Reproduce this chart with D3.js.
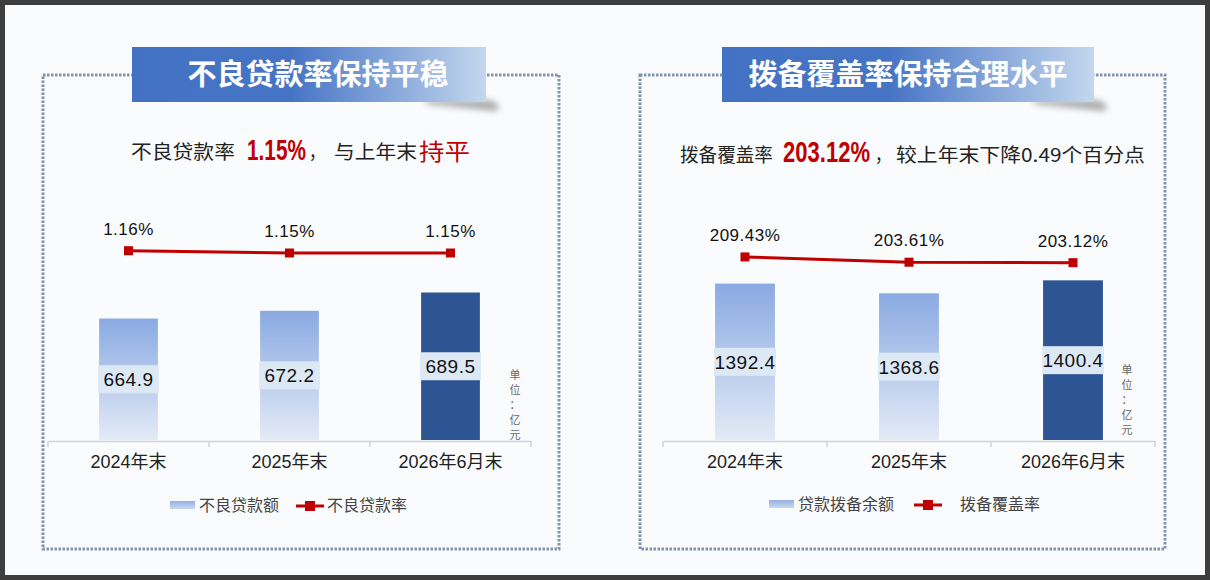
<!DOCTYPE html>
<html>
<head>
<meta charset="utf-8">
<script src="https://cdn.jsdelivr.net/npm/d3@7"></script>
<style>
  body { margin: 0; background: #3d3d3d; }
  svg { display: block; }
  text { font-family: "Noto Sans CJK SC", sans-serif; }
  .num { font-family: "Liberation Sans Narrow", "Liberation Sans", "Noto Sans CJK SC", sans-serif; }
</style>
</head>
<body>
<div id="chart"></div>
<script>
// data
var categories = ["2024年末", "2025年末", "2026年6月末"];
var nplAmount = [664.9, 672.2, 689.5];        // 不良贷款额 (亿元)
var nplRate = [1.16, 1.15, 1.15];             // 不良贷款率 (%)
var provisionAmount = [1392.4, 1368.6, 1400.4]; // 贷款拨备余额 (亿元)
var coverageRate = [209.43, 203.61, 203.12];  // 拨备覆盖率 (%)

var svgWidth = 1210;
var svgHeight = 580;

var svg = d3.select("#chart")
  .append("svg")
  .attr("width", svgWidth)
  .attr("height", svgHeight);

var defs = svg.append("defs");

// bar gradient (light bars)
var barGrad = defs.append("linearGradient")
  .attr("id", "barGrad")
  .attr("x1", 0).attr("y1", 0).attr("x2", 0).attr("y2", 1);
barGrad.append("stop").attr("offset", "0%").attr("stop-color", "#8aaae2");
barGrad.append("stop").attr("offset", "100%").attr("stop-color", "#e3eaf6");

var legGrad = defs.append("linearGradient")
  .attr("id", "legGrad")
  .attr("x1", 0).attr("y1", 0).attr("x2", 0).attr("y2", 1);
legGrad.append("stop").attr("offset", "0%").attr("stop-color", "#93b1e4");
legGrad.append("stop").attr("offset", "100%").attr("stop-color", "#c9d8f0");

// title box gradient
var titleGrad = defs.append("linearGradient")
  .attr("id", "titleGrad")
  .attr("x1", 0).attr("y1", 0).attr("x2", 1).attr("y2", 0);
titleGrad.append("stop").attr("offset", "0%").attr("stop-color", "#4372c4");
titleGrad.append("stop").attr("offset", "45%").attr("stop-color", "#4674c5");
titleGrad.append("stop").attr("offset", "100%").attr("stop-color", "#c3d7ee");

defs.append("filter")
  .attr("id", "blur")
  .attr("x", "-50%").attr("y", "-50%").attr("width", "200%").attr("height", "200%")
  .append("feGaussianBlur")
  .attr("stdDeviation", 3);

// background + dark frame
svg.append("rect")
  .attr("x", 2.5).attr("y", 2.5)
  .attr("width", svgWidth - 5).attr("height", svgHeight - 5)
  .attr("fill", "#f9fbfc")
  .attr("stroke", "#3d3d3d")
  .attr("stroke-width", 5);

var panels = [
  {
    frame: [43, 75, 559, 549],
    title: "不良贷款率保持平稳",
    titleBox: [132, 486],
    titleX: 318,
    sub: [
      { t: "不良贷款率", x: 131, size: 19, len: 104, color: "#222", y: 159 },
      { t: "1.15%", x: 247, size: 30, len: 59, color: "#c00000", bold: true, num: true, y: 160 },
      { t: "，", x: 309, size: 19, len: 16, color: "#222", y: 159 },
      { t: "与上年末", x: 334, size: 19, len: 83, color: "#222", y: 159 },
      { t: "持平", x: 419, size: 23, len: 51, color: "#c00000", y: 160 }
    ],
    axis: [48, 531],
    bars: nplAmount,
    barDomain: [550, 700], barRange: [440, 281.4],
    rates: nplRate,
    rateDomain: [1.0, 1.5], rateRange: [287.5, 172.5],
    unitX: 515, unitY: 375,
    legend: { sw: 170, t1: "不良贷款额", t1x: 199, lw: 296, t2: "不良贷款率", t2x: 327, y: 505 }
  },
  {
    frame: [640, 75, 1165, 549],
    title: "拨备覆盖率保持合理水平",
    titleBox: [722, 1094],
    titleX: 908,
    sub: [
      { t: "拨备覆盖率", x: 680, size: 19, len: 93, color: "#222", y: 162 },
      { t: "203.12%", x: 783, size: 30, len: 87, color: "#c00000", bold: true, num: true, y: 162 },
      { t: "，", x: 875, size: 19, len: 16, color: "#222", y: 162 },
      { t: "较上年末下降0.49个百分点", x: 896, size: 19, len: 249, color: "#222", y: 162 }
    ],
    axis: [663, 1155],
    bars: provisionAmount,
    barDomain: [1010, 1500], barRange: [440, 239.6],
    rates: coverageRate,
    rateDomain: [150, 250], rateRange: [311, 220],
    unitX: 1127, unitY: 370,
    legend: { sw: 769, t1: "贷款拨备余额", t1x: 798, lw: 914, t2: "拨备覆盖率", t2x: 960, y: 504 }
  }
];

var fmt = d3.format(".1f");
var rateFmt = d3.format(".2f");

panels.forEach(function(p) {
  var g = svg.append("g");

  // dotted frame
  g.append("rect")
    .attr("x", p.frame[0]).attr("y", p.frame[1])
    .attr("width", p.frame[2] - p.frame[0])
    .attr("height", p.frame[3] - p.frame[1])
    .attr("fill", "none")
    .attr("stroke", "#8394ae")
    .attr("stroke-width", 3)
    .attr("stroke-dasharray", "2.5,1.5");

  // title box shadow + box
  var bx0 = p.titleBox[0], bx1 = p.titleBox[1];
  g.append("path")
    .attr("d", "M" + (bx1 - 60) + ",100 L" + (bx1 + 2) + ",100 Q" + (bx1 + 18) + ",104 " + (bx1 + 10) + ",111 Q" + (bx1 - 20) + ",108 " + (bx1 - 60) + ",104 Z")
    .attr("fill", "#777")
    .attr("opacity", 0.6)
    .attr("filter", "url(#blur)");
  g.append("rect")
    .attr("x", bx0).attr("y", 47)
    .attr("width", bx1 - bx0).attr("height", 55)
    .attr("fill", "url(#titleGrad)");
  g.append("text")
    .attr("x", p.titleX).attr("y", 85)
    .attr("text-anchor", "middle")
    .attr("fill", "#fff")
    .attr("font-size", 29)
    .attr("font-weight", 700)
    .text(p.title);

  // subtitle: each piece squeezed to the width seen in the picture
  p.sub.forEach(function(s) {
    var t = g.append("text")
      .attr("font-size", s.size)
      .attr("fill", s.color)
      .attr("font-weight", s.bold ? 700 : 400)
      .attr("class", s.num ? "num" : null)
      .text(s.t);
    var w = t.node().getComputedTextLength();
    var sx = s.len ? s.len / w : 1;
    t.attr("transform", "translate(" + s.x + "," + s.y + ") scale(" + sx + ",1)");
  });

  // scales
  var x = d3.scaleBand()
    .domain(categories)
    .range(p.axis)
    .paddingInner(0.635)
    .paddingOuter(0.3175);
  var yBar = d3.scaleLinear().domain(p.barDomain).range(p.barRange);
  var yRate = d3.scaleLinear().domain(p.rateDomain).range(p.rateRange);

  // bars
  g.selectAll(".bar")
    .data(p.bars)
    .enter()
    .append("rect")
    .attr("x", function(d, i) { return x(categories[i]); })
    .attr("y", function(d) { return yBar(d); })
    .attr("width", x.bandwidth())
    .attr("height", function(d) { return yBar.range()[0] - yBar(d); })
    .attr("fill", function(d, i) { return i === 2 ? "#2d5493" : "url(#barGrad)"; });

  // bar labels in boxes
  var lab = g.selectAll(".barlab")
    .data(p.bars)
    .enter()
    .append("g")
    .attr("transform", function(d, i) {
      var cx = x(categories[i]) + x.bandwidth() / 2;
      var cy = (yBar(d) + yBar.range()[0]) / 2;
      return "translate(" + cx + "," + cy + ")";
    });
  lab.append("rect")
    .attr("x", -(x.bandwidth() / 2 + 1)).attr("y", -14)
    .attr("width", x.bandwidth() + 2).attr("height", 28)
    .attr("fill", "#dde8f5");
  lab.append("text")
    .attr("class", "num")
    .attr("text-anchor", "middle")
    .attr("y", 7)
    .attr("font-size", 19)
    .attr("fill", "#111")
    .attr("letter-spacing", 0.5)
    .text(function(d) { return fmt(d); });

  // x axis
  var axisG = g.append("g")
    .attr("transform", "translate(0,441)")
    .call(d3.axisBottom(x).tickSize(0).tickPadding(14));
  axisG.select(".domain").attr("stroke", "#d3d3d3").attr("stroke-width", 1.5);
  axisG.selectAll("text")
    .attr("class", "num")
    .attr("font-size", 18)
    .attr("fill", "#222");
  var bounds = [0, 1, 2, 3].map(function(i) { return p.axis[0] + i * x.step(); });
  axisG.selectAll(".bound")
    .data(bounds)
    .enter()
    .append("line")
    .attr("x1", function(d) { return d; })
    .attr("x2", function(d) { return d; })
    .attr("y1", 0).attr("y2", 6)
    .attr("stroke", "#d3d3d3")
    .attr("stroke-width", 1.5);

  // rate line
  var line = d3.line()
    .x(function(d, i) { return x(categories[i]) + x.bandwidth() / 2; })
    .y(function(d) { return yRate(d); });
  g.append("path")
    .datum(p.rates)
    .attr("d", line)
    .attr("fill", "none")
    .attr("stroke", "#c00000")
    .attr("stroke-width", 3);
  g.selectAll(".mk")
    .data(p.rates)
    .enter()
    .append("rect")
    .attr("x", function(d, i) { return x(categories[i]) + x.bandwidth() / 2 - 4.5; })
    .attr("y", function(d) { return yRate(d) - 4.5; })
    .attr("width", 9).attr("height", 9)
    .attr("fill", "#c00000");
  g.selectAll(".rlab")
    .data(p.rates)
    .enter()
    .append("text")
    .attr("class", "num")
    .attr("x", function(d, i) { return x(categories[i]) + x.bandwidth() / 2; })
    .attr("y", function(d) { return yRate(d) - 16; })
    .attr("text-anchor", "middle")
    .attr("font-size", 17)
    .attr("fill", "#111")
    .attr("letter-spacing", 0.5)
    .text(function(d) { return rateFmt(d) + "%"; });

  // unit note (vertical)
  g.selectAll(".unit")
    .data("单位：亿元".split(""))
    .enter()
    .append("text")
    .attr("x", p.unitX)
    .attr("y", function(d, i) { return p.unitY + 4 + i * 15; })
    .attr("text-anchor", "middle")
    .attr("font-size", 11)
    .attr("fill", "#666")
    .text(function(d) { return d; });

  // legend
  var L = p.legend;
  g.append("rect")
    .attr("x", L.sw).attr("y", L.y - 4)
    .attr("width", 25).attr("height", 8)
    .attr("fill", "url(#legGrad)");
  g.append("text")
    .attr("x", L.t1x).attr("y", L.y + 6)
    .attr("font-size", 16)
    .attr("fill", "#444")
    .text(L.t1);
  g.append("line")
    .attr("x1", L.lw).attr("x2", L.lw + 28)
    .attr("y1", L.y + 1).attr("y2", L.y + 1)
    .attr("stroke", "#c00000")
    .attr("stroke-width", 3);
  g.append("rect")
    .attr("x", L.lw + 14 - 5).attr("y", L.y + 1 - 5)
    .attr("width", 10).attr("height", 10)
    .attr("fill", "#c00000");
  g.append("text")
    .attr("x", L.t2x).attr("y", L.y + 6)
    .attr("font-size", 16)
    .attr("fill", "#444")
    .text(L.t2);
});
</script>
</body>
</html>
